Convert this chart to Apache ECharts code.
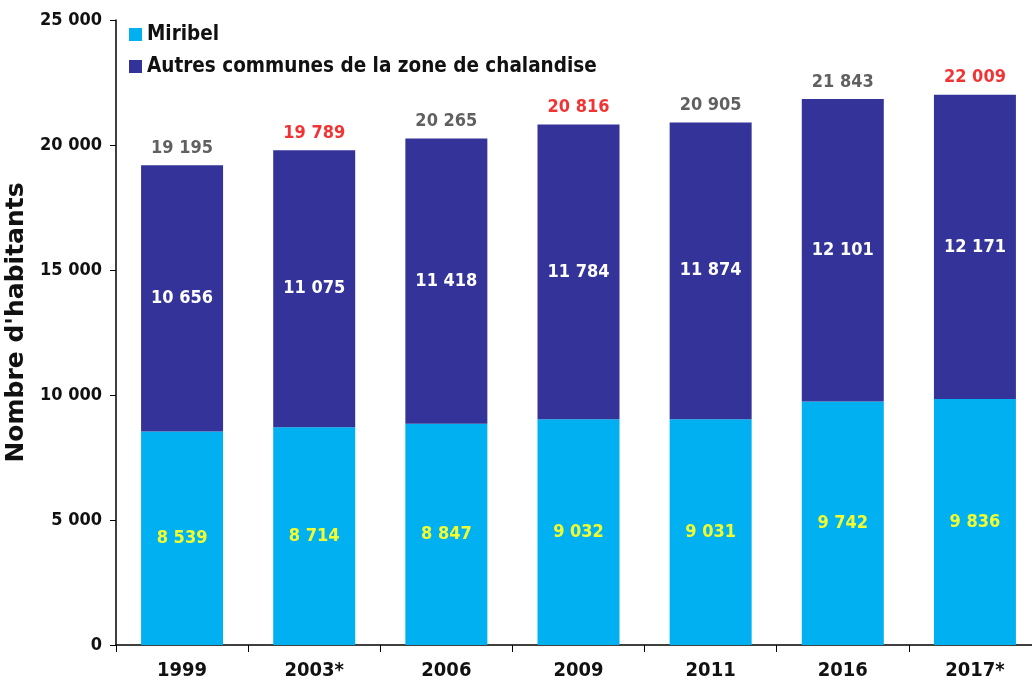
<!DOCTYPE html>
<html>
<head>
<meta charset="utf-8">
<script src="https://cdn.jsdelivr.net/npm/echarts@6/dist/echarts.min.js"></script>
<style>
  html, body { margin: 0; padding: 0; background: #fff; }
  #chart { width: 1032px; height: 688px; }
</style>
</head>
<body>
<div id="chart"></div>
<script>
// données
var annees = ['1999', '2003*', '2006', '2009', '2011', '2016', '2017*'];
var miribel = [8539, 8714, 8847, 9032, 9031, 9742, 9836];
var autres = [10656, 11075, 11418, 11784, 11874, 12101, 12171];
var totaux = [19195, 19789, 20265, 20816, 20905, 21843, 22009];
var totauxRouges = [false, true, false, true, false, false, true];

var police = '"DejaVu Sans Condensed", "DejaVu Sans", sans-serif';

function espace(v) {
    return String(v).replace(/\B(?=(\d{3})+(?!\d))/g, ' ');
}

var chart = echarts.init(document.getElementById('chart'));

var option = {
    backgroundColor: '#ffffff',
    animation: false,
    textStyle: { fontFamily: police },
    legend: {
        orient: 'vertical',
        left: 124,
        top: 19,
        itemWidth: 13,
        itemHeight: 13,
        itemGap: 11,
        icon: 'rect',
        textStyle: { fontSize: 20.5, fontWeight: 'bold', color: '#111', fontFamily: police },
        data: ['Miribel', 'Autres communes de la zone de chalandise']
    },
    grid: {
        left: 116,
        right: -9,
        top: 20,
        bottom: 43,
        outerBoundsMode: 'none',
        containLabel: false
    },
    xAxis: {
        type: 'category',
        data: annees,
        axisLine: { lineStyle: { color: '#000', width: 1.5 } },
        axisTick: { show: true, length: 7, lineStyle: { color: '#000' } },
        axisLabel: { fontSize: 20, fontWeight: 'bold', color: '#111', margin: 16, fontFamily: police }
    },
    yAxis: {
        type: 'value',
        min: 0,
        max: 25000,
        interval: 5000,
        name: "Nombre d'habitants",
        nameLocation: 'middle',
        nameGap: 86,
        nameTextStyle: {
            fontSize: 25, fontWeight: 'bold', color: '#111',
            fontFamily: '"DejaVu Sans", sans-serif',
            padding: [0, 0, 0, 20]
        },
        axisLine: { show: true, lineStyle: { color: '#000', width: 1.5 } },
        axisTick: { show: true, length: 6, lineStyle: { color: '#000' } },
        splitLine: { show: false },
        axisLabel: {
            fontSize: 18, fontWeight: 'bold', color: '#111', margin: 14, fontFamily: police,
            formatter: function (v) { return espace(v); }
        }
    },
    series: [
        {
            name: 'Miribel',
            type: 'bar',
            stack: 'total',
            barWidth: 82,
            itemStyle: { color: '#00B0F0' },
            label: {
                show: true,
                position: 'inside',
                color: '#F2FF30',
                fontSize: 18,
                fontWeight: 'bold',
                fontFamily: police,
                formatter: function (p) { return espace(p.value); }
            },
            data: miribel
        },
        {
            name: 'Autres communes de la zone de chalandise',
            type: 'bar',
            stack: 'total',
            barWidth: 82,
            itemStyle: { color: '#333399' },
            label: {
                show: true,
                position: 'inside',
                color: '#ffffff',
                fontSize: 18,
                fontWeight: 'bold',
                fontFamily: police,
                formatter: function (p) { return espace(p.value); }
            },
            data: autres
        },
        {
            name: 'Total',
            type: 'scatter',
            symbolSize: 0,
            silent: true,
            label: {
                show: true,
                position: 'top',
                distance: 8,
                fontSize: 18,
                fontWeight: 'bold',
                fontFamily: police,
                formatter: function (p) { return espace(p.value); }
            },
            data: totaux.map(function (v, i) {
                return { value: v, label: { color: totauxRouges[i] ? '#EE0000' : '#383838' } };
            })
        }
    ]
};

chart.setOption(option);
</script>
</body>
</html>
